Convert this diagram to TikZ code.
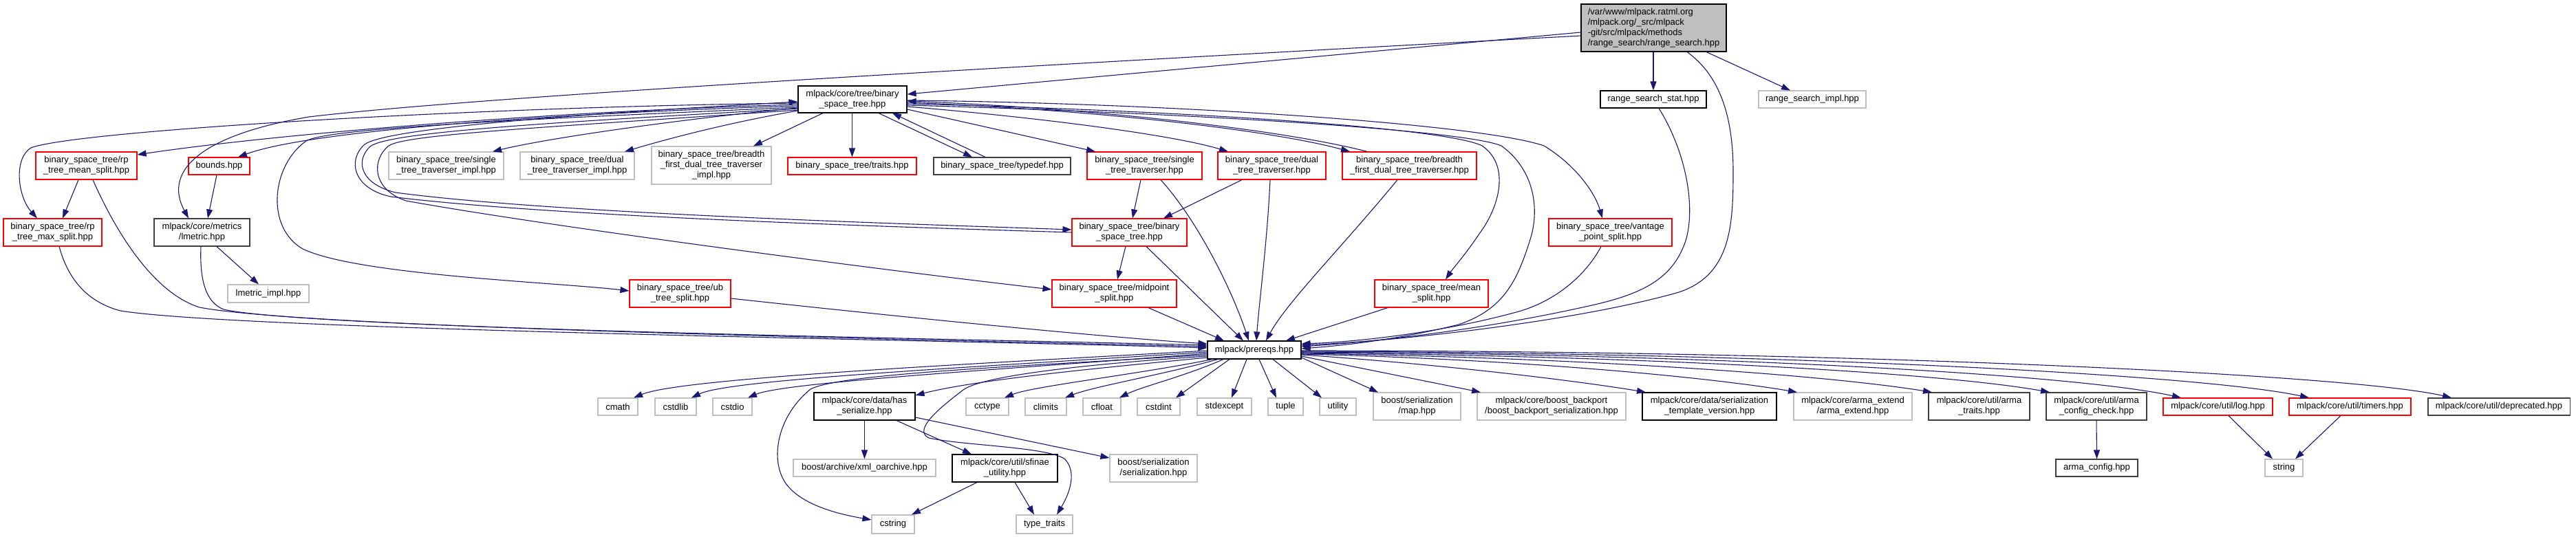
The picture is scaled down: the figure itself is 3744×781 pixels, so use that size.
\documentclass[tikz,border=0pt]{standalone}
\usepackage{fontspec}
\setmainfont{Liberation Sans}
\usetikzlibrary{arrows.meta}
\definecolor{edgec}{HTML}{191970}
\definecolor{graybd}{HTML}{BFBFBF}
\definecolor{darkbd}{HTML}{404040}
\definecolor{rootfill}{HTML}{BFBFBF}
\newcommand{\nfont}{\fontsize{13}{15}\selectfont}
\tikzset{
  nbox/.style={rectangle, draw, line width=1.1pt, inner sep=0pt, align=center, font=\nfont, fill=white},
  rbox/.style={nbox, draw=red},
  gbox/.style={nbox, draw=graybd},
  dbox/.style={nbox, draw=darkbd},
  kbox/.style={nbox, draw=black},
  sz/.style 2 args={minimum width=#1pt, minimum height=#2pt},
  conn/.style={draw=edgec, line width=1.1pt, -{Triangle[length=13pt,width=9pt]}},
}
\begin{document}
\begin{tikzpicture}[x=1pt,y=-1pt]
\useasboundingbox (0,0) rectangle (3744,781);
\fill[white] (0,0) rectangle (3744,781);
% ---------- nodes ----------
\node[kbox, fill=rootfill, align=left, sz={211}{69}] (root) at (2403.5,40.5)
  {/var/www/mlpack.ratml.org\\/mlpack.org/\_src/mlpack\\-git/src/mlpack/methods\\/range\_search/range\_search.hpp};
\node[kbox, sz={158}{39}] (bst) at (1239,144.5) {mlpack/core/tree/binary\\\_space\_tree.hpp};
\node[kbox, sz={154}{25}] (rss) at (2403,144.5) {range\_search\_stat.hpp};
\node[gbox, sz={156}{25}] (rsi) at (2634,144.5) {range\_search\_impl.hpp};
\node[rbox, sz={147}{40}] (rpmean) at (125.5,241) {binary\_space\_tree/rp\\\_tree\_mean\_split.hpp};
\node[rbox, sz={89}{25}] (bounds) at (318.5,241.5) {bounds.hpp};
\node[gbox, sz={167}{40}] (stti) at (648.5,241) {binary\_space\_tree/single\\\_tree\_traverser\_impl.hpp};
\node[gbox, sz={166}{40}] (dtti) at (839,241) {binary\_space\_tree/dual\\\_tree\_traverser\_impl.hpp};
\node[gbox, sz={174}{55}] (bfi) at (1034,240.5) {binary\_space\_tree/breadth\\\_first\_dual\_tree\_traverser\\\_impl.hpp};
\node[rbox, sz={187}{25}] (traits) at (1238.5,241.5) {binary\_space\_tree/traits.hpp};
\node[dbox, sz={199}{25}] (typedef) at (1456.5,241.5) {binary\_space\_tree/typedef.hpp};
\node[rbox, sz={167}{40}] (stt) at (1663.5,241) {binary\_space\_tree/single\\\_tree\_traverser.hpp};
\node[rbox, sz={157}{40}] (dtt) at (1848.5,241) {binary\_space\_tree/dual\\\_tree\_traverser.hpp};
\node[rbox, sz={195}{40}] (bft) at (2048.5,241) {binary\_space\_tree/breadth\\\_first\_dual\_tree\_traverser.hpp};
\node[rbox, sz={143}{40}] (rpmax) at (76.5,338) {binary\_space\_tree/rp\\\_tree\_max\_split.hpp};
\node[dbox, sz={139}{40}] (lmetric) at (293.5,338) {mlpack/core/metrics\\/lmetric.hpp};
\node[rbox, sz={167}{40}] (bstbst) at (1641.5,338) {binary\_space\_tree/binary\\\_space\_tree.hpp};
\node[rbox, sz={179}{40}] (vps) at (2340.5,338) {binary\_space\_tree/vantage\\\_point\_split.hpp};
\node[gbox, sz={118}{26}] (lmimpl) at (390,427) {lmetric\_impl.hpp};
\node[rbox, sz={147}{40}] (ub) at (988.5,427) {binary\_space\_tree/ub\\\_tree\_split.hpp};
\node[rbox, sz={181}{40}] (mid) at (1619.5,427) {binary\_space\_tree/midpoint\\\_split.hpp};
\node[rbox, sz={165}{40}] (mean) at (2080.5,427) {binary\_space\_tree/mean\\\_split.hpp};
\node[kbox, sz={136}{26}] (prereqs) at (1823,509) {mlpack/prereqs.hpp};
\node[gbox, sz={58}{25}] (cmath) at (898,591.5) {cmath};
\node[gbox, sz={60}{25}] (cstdlib) at (982,591.5) {cstdlib};
\node[gbox, sz={57}{25}] (cstdio) at (1064.5,591.5) {cstdio};
\node[kbox, sz={147}{40}] (hasser) at (1256.5,591) {mlpack/core/data/has\\\_serialize.hpp};
\node[gbox, sz={62}{25}] (cctype) at (1435,591.5) {cctype};
\node[gbox, sz={60}{25}] (climits) at (1520,591.5) {climits};
\node[gbox, sz={55}{25}] (cfloat) at (1601.5,591.5) {cfloat};
\node[gbox, sz={62}{25}] (cstdint) at (1684,591.5) {cstdint};
\node[gbox, sz={79}{25}] (stdexcept) at (1779.5,591.5) {stdexcept};
\node[gbox, sz={51}{25}] (tuple) at (1868.5,591.5) {tuple};
\node[gbox, sz={53}{25}] (utility) at (1944.5,591.5) {utility};
\node[gbox, sz={127}{40}] (map) at (2059.5,591) {boost/serialization\\/map.hpp};
\node[gbox, sz={216}{40}] (backport) at (2255,591) {mlpack/core/boost\_backport\\/boost\_backport\_serialization.hpp};
\node[kbox, sz={195}{40}] (stv) at (2484.5,591) {mlpack/core/data/serialization\\\_template\_version.hpp};
\node[gbox, sz={172}{40}] (armaext) at (2693,591) {mlpack/core/arma\_extend\\/arma\_extend.hpp};
\node[dbox, sz={147}{40}] (armatraits) at (2876.5,591) {mlpack/core/util/arma\\\_traits.hpp};
\node[dbox, sz={146}{40}] (armacc) at (3047,591) {mlpack/core/util/arma\\\_config\_check.hpp};
\node[rbox, sz={159}{25}] (log) at (3223.5,591.5) {mlpack/core/util/log.hpp};
\node[rbox, sz={177}{25}] (timers) at (3415.5,591.5) {mlpack/core/util/timers.hpp};
\node[dbox, sz={206}{25}] (deprecated) at (3632,591.5) {mlpack/core/util/deprecated.hpp};
\node[gbox, sz={207}{25}] (xml) at (1256.5,680.5) {boost/archive/xml\_oarchive.hpp};
\node[kbox, sz={153}{40}] (sfinae) at (1460.5,681) {mlpack/core/util/sfinae\\\_utility.hpp};
\node[gbox, sz={127}{40}] (bser) at (1676.5,681) {boost/serialization\\/serialization.hpp};
\node[dbox, sz={119}{25}] (armaconfig) at (3047.5,680.5) {arma\_config.hpp};
\node[gbox, sz={55}{25}] (string) at (3319.5,680.5) {string};
\node[gbox, sz={62}{27}] (cstring) at (1298,762.5) {cstring};
\node[gbox, sz={82}{27}] (typetraits) at (1518,762.5) {type\_traits};
% ---------- root edges ----------
\draw[conn] (root.west |- 0,47) -- (bst.east |- 0,137);
\draw[conn] (root.west |- 0,52) .. controls (1500,95) and (700,140) .. (449,170) .. controls (300,195) and (235,245) .. (lmetric.north -| 274,0);
\draw[conn] (root.south -| rss.north) -- (rss.north);
\draw[conn] (root.south -| 2480,0) -- (rsi.north -| 2602,0);
\draw[conn] (root.south -| 2452,0) .. controls (2500,110) and (2519,170) .. (2519,250) .. controls (2519,330) and (2515,400) .. (2440,425) .. controls (2300,465) and (2050,495) .. (prereqs.east |- 0,502);
\draw[conn] (rss.south -| 2411,0) .. controls (2450,220) and (2465,300) .. (2450,350) .. controls (2430,410) and (2380,430) .. (2300,447) .. controls (2150,480) and (2000,497) .. (prereqs.east |- 0,504);
% ---------- bst edges (right side) ----------
\draw[conn] (bst.east |- 0,146) .. controls (1700,150) and (2150,180) .. (2244,212) .. controls (2290,240) and (2318,280) .. (vps.north -| 2329,0);
\draw[conn] (bst.east |- 0,151) .. controls (1700,160) and (2100,185) .. (2154,212) .. controls (2195,240) and (2180,300) .. (2150,340) .. controls (2130,370) and (2112,390) .. (mean.north -| 2101,0);
\draw[conn] (bst.east |- 0,153) .. controls (1750,165) and (2130,190) .. (2182,212) .. controls (2228,245) and (2238,300) .. (2225,345) .. controls (2205,410) and (2185,450) .. (2120,472) .. controls (2040,492) and (1960,502) .. (prereqs.east |- 0,507);
\draw[conn] (bst.east |- 0,149) .. controls (1600,160) and (1850,190) .. (bft.north -| 1962,0);
\draw[conn] (bft.north -| 1987,0) .. controls (1870,190) and (1600,158) .. (bst.east |- 0,147);
\draw[conn] (bst.east |- 0,155) .. controls (1500,170) and (1700,195) .. (dtt.north -| 1785,0);
\draw[conn] (bst.east |- 0,159) -- (stt.north -| 1592,0);
\draw[conn] (bst.south -| 1277,0) -- (typedef.north -| 1413,0);
\draw[conn] (typedef.north -| 1432,0) -- (bst.south -| 1297,0);
\draw[conn] (bst.south -| traits.north) -- (traits.north);
\draw[conn] (bst.south -| 1196,0) -- (bfi.north -| 1095,0);
% ---------- bst edges (left side) ----------
\draw[conn] (bst.west |- 0,161) .. controls (1050,180) and (960,205) .. (dtti.north -| 908,0);
\draw[conn] (bst.west |- 0,157) .. controls (1000,172) and (800,200) .. (stti.north -| 716,0);
\draw[conn] (bst.west |- 0,154) .. controls (800,165) and (450,190) .. (bounds.north -| 346,0);
\draw[conn] (bst.west |- 0,152) .. controls (800,162) and (400,195) .. (rpmean.east |- 0,225);
\draw[conn] (bst.west |- 0,150) .. controls (700,155) and (110,190) .. (45,215) .. controls (20,230) and (25,285) .. (rpmax.north -| 54,0);
\draw[conn] (bst.west |- 0,156) .. controls (800,172) and (480,185) .. (445,205) .. controls (395,240) and (385,330) .. (440,362) .. controls (520,400) and (800,410) .. (ub.west |- 0,423);
\draw[conn] (bst.west |- 0,158) .. controls (800,178) and (565,192) .. (538,213) .. controls (515,235) and (525,268) .. (575,280) .. controls (800,310) and (1300,325) .. (bstbst.west |- 0,334);
\draw[conn] (bstbst.west |- 0,338) .. controls (1300,330) and (800,315) .. (568,286) .. controls (512,274) and (505,232) .. (530,210) .. controls (560,188) and (800,168) .. (bst.west |- 0,148);
\draw[conn] (bst.west |- 0,160) .. controls (800,185) and (590,195) .. (565,212) .. controls (540,232) and (540,275) .. (590,292) .. controls (800,330) and (1300,395) .. (mid.west |- 0,421);
% ---------- left cluster ----------
\draw[conn] (rpmean.south -| 114,0) -- (rpmax.north -| 91,0);
\draw[conn] (bounds.south -| 315,0) -- (lmetric.north -| 302,0);
\draw[conn] (lmetric.south -| 315,0) -- (lmimpl.north -| 376,0);
\draw[conn] (rpmax.south -| 86,0) .. controls (100,410) and (130,440) .. (175,452) .. controls (350,480) and (1400,495) .. (prereqs.west |- 0,506);
\draw[conn] (rpmean.south -| 135,0) .. controls (165,330) and (220,425) .. (290,447) .. controls (450,478) and (1400,495) .. (prereqs.west |- 0,504);
\draw[conn] (lmetric.south -| 292,0) .. controls (290,410) and (300,440) .. (325,450) .. controls (450,478) and (1400,493) .. (prereqs.west |- 0,502);
\draw[conn] (ub.east |- 0,434) .. controls (1300,460) and (1600,490) .. (prereqs.west |- 0,500);
% ---------- middle cluster ----------
\draw[conn] (stt.south -| 1658,0) -- (bstbst.north -| 1646,0);
\draw[conn] (dtt.south -| 1805,0) -- (bstbst.north -| 1691,0);
\draw[conn] (bstbst.south -| 1636,0) -- (mid.north -| 1624,0);
\draw[conn] (mid.south -| 1669,0) -- (prereqs.north -| 1779,0);
\draw[conn] (bstbst.south -| 1666,0) -- (prereqs.north -| 1807,0);
\draw[conn] (stt.south -| 1687,0) .. controls (1740,320) and (1790,420) .. (prereqs.north -| 1815,0);
\draw[conn] (dtt.south -| 1846,0) .. controls (1842,350) and (1830,440) .. (prereqs.north -| 1826,0);
\draw[conn] (bft.south -| 2031,0) .. controls (1950,360) and (1870,440) .. (prereqs.north -| 1840,0);
\draw[conn] (mean.south -| 2017,0) -- (prereqs.north -| 1869,0);
\draw[conn] (vps.south -| 2327,0) .. controls (2305,400) and (2260,440) .. (2200,455) .. controls (2100,482) and (1980,497) .. (prereqs.east |- 0,500);
% ---------- prereqs out ----------
\draw[conn] (prereqs.west |- 0,510) .. controls (1400,530) and (990,550) .. (cmath.north -| 921,0);
\draw[conn] (prereqs.west |- 0,512) .. controls (1400,535) and (1060,552) .. (cstdlib.north -| 1005,0);
\draw[conn] (prereqs.west |- 0,514) .. controls (1450,538) and (1140,556) .. (cstdio.north -| 1087,0);
\draw[conn] (prereqs.west |- 0,516) .. controls (1500,532) and (1220,543) .. (1178,566) .. controls (1130,605) and (1118,668) .. (1142,703) .. controls (1165,735) and (1220,748) .. (cstring.west |- 0,756);
\draw[conn] (prereqs.west |- 0,518) .. controls (1600,528) and (1430,545) .. (1400,567) .. controls (1370,590) and (1325,625) .. (1350,637) .. controls (1400,648) and (1525,650) .. (1548,668) .. controls (1568,690) and (1550,725) .. (typetraits.north -| 1536,0);
\draw[conn] (prereqs.west |- 0,520) .. controls (1600,535) and (1420,552) .. (hasser.east |- 0,575);
\draw[conn] (prereqs.south -| 1762,0) .. controls (1650,545) and (1500,562) .. (cctype.north -| 1460,0);
\draw[conn] (prereqs.south -| 1770,0) .. controls (1690,545) and (1590,562) .. (climits.north -| 1548,0);
\draw[conn] (prereqs.south -| 1778,0) .. controls (1720,548) and (1660,562) .. (cfloat.north -| 1627,0);
\draw[conn] (prereqs.south -| 1787,0) -- (cstdint.north -| 1709,0);
\draw[conn] (prereqs.south -| 1812,0) -- (stdexcept.north -| 1790,0);
\draw[conn] (prereqs.south -| 1830,0) -- (tuple.north -| 1855,0);
\draw[conn] (prereqs.south -| 1850,0) -- (utility.north -| 1921,0);
\draw[conn] (prereqs.east |- 0,520) -- (map.north -| 2003,0);
\draw[conn] (prereqs.east |- 0,518) -- (backport.north -| 2152,0);
\draw[conn] (prereqs.east |- 0,516) .. controls (2100,530) and (2300,555) .. (stv.north -| 2392,0);
\draw[conn] (prereqs.east |- 0,515) .. controls (2200,522) and (2480,548) .. (armaext.north -| 2612,0);
\draw[conn] (prereqs.east |- 0,514) .. controls (2300,520) and (2650,545) .. (armatraits.north -| 2808,0);
\draw[conn] (prereqs.east |- 0,513) .. controls (2400,518) and (2820,542) .. (armacc.north -| 2979,0);
\draw[conn] (prereqs.east |- 0,512) .. controls (2500,515) and (3020,545) .. (log.north -| 3170,0);
\draw[conn] (prereqs.east |- 0,511) .. controls (2600,513) and (3200,545) .. (timers.north -| 3356,0);
\draw[conn] (prereqs.east |- 0,510) .. controls (2700,510) and (3420,545) .. (deprecated.north -| 3563,0);
% ---------- lower ----------
\draw[conn] (hasser.south) -- (xml.north);
\draw[conn] (hasser.south -| 1303,0) -- (sfinae.north -| 1412,0);
\draw[conn] (hasser.east |- 0,607) -- (bser.west |- 0,666);
\draw[conn] (sfinae.south -| 1420,0) -- (cstring.north -| 1325,0);
\draw[conn] (sfinae.south -| 1475,0) -- (typetraits.north -| 1503,0);
\draw[conn] (armacc.south) -- (armaconfig.north);
\draw[conn] (log.south -| 3239,0) -- (string.north -| 3303,0);
\draw[conn] (timers.south -| 3402,0) -- (string.north -| 3336,0);
\end{tikzpicture}
\end{document}
